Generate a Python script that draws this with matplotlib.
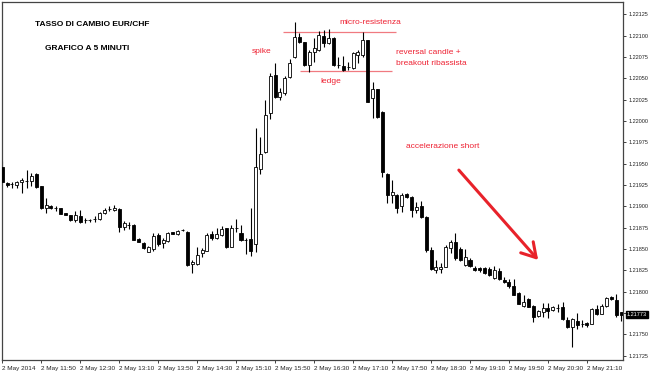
import matplotlib
matplotlib.use("Agg")
import matplotlib.pyplot as plt
import matplotlib.transforms as mtransforms
import numpy as np

# EUR/CHF 5 minute candles, 2 May 2014 from 11:10
opens = [1.21946, 1.21927, 1.21926, 1.21925, 1.21929, 1.21930, 1.21930, 1.21938, 1.21924, 1.21898,
         1.21900, 1.21898, 1.21898, 1.21892, 1.21890, 1.21884, 1.21889, 1.21884, 1.21884, 1.21885,
         1.21885, 1.21892, 1.21897, 1.21896, 1.21897, 1.21876, 1.21878, 1.21878, 1.21862, 1.21857,
         1.21847, 1.21850, 1.21867, 1.21857, 1.21860, 1.21870, 1.21868, 1.21872, 1.21870, 1.21833,
         1.21833, 1.21845, 1.21848, 1.21868, 1.21863, 1.21867, 1.21875, 1.21852, 1.21875, 1.21869,
         1.21861, 1.21862, 1.21856, 1.21944, 1.21964, 1.22009, 1.22054, 1.22028, 1.22033, 1.22052,
         1.22075, 1.22098, 1.22093, 1.22066, 1.22081, 1.22083, 1.22100, 1.22091, 1.22097, 1.22066,
         1.22064, 1.22063, 1.22062, 1.22077, 1.22077, 1.22095, 1.22027, 1.22037, 1.22011, 1.21938,
         1.21913, 1.21913, 1.21900, 1.21915, 1.21911, 1.21896, 1.21900, 1.21888, 1.21849, 1.21826,
         1.21827, 1.21829, 1.21851, 1.21858, 1.21850, 1.21831, 1.21837, 1.21828, 1.21828, 1.21828,
         1.21827, 1.21816, 1.21824, 1.21814, 1.21812, 1.21807, 1.21799, 1.21783, 1.21792, 1.21783,
         1.21772, 1.21776, 1.21781, 1.21779, 1.21781, 1.21782, 1.21767, 1.21759, 1.21766, 1.21762,
         1.21763, 1.21762, 1.21780, 1.21774, 1.21783, 1.21794, 1.21790, 1.21776]
highs = [1.21953, 1.21929, 1.21929, 1.21930, 1.21933, 1.21943, 1.21939, 1.21939, 1.21924, 1.21910,
         1.21902, 1.21900, 1.21898, 1.21892, 1.21890, 1.21895, 1.21896, 1.21886, 1.21885, 1.21889,
         1.21893, 1.21898, 1.21900, 1.21902, 1.21898, 1.21883, 1.21882, 1.21879, 1.21863, 1.21858,
         1.21854, 1.21869, 1.21869, 1.21863, 1.21870, 1.21870, 1.21872, 1.21874, 1.21871, 1.21837,
         1.21852, 1.21851, 1.21869, 1.21871, 1.21875, 1.21877, 1.21875, 1.21878, 1.21885, 1.21878,
         1.21863, 1.21898, 1.21992, 1.21981, 1.22025, 1.22056, 1.22068, 1.22039, 1.22053, 1.22073,
         1.22116, 1.22103, 1.22093, 1.22083, 1.22097, 1.22105, 1.22107, 1.22108, 1.22098, 1.22075,
         1.22076, 1.22069, 1.22081, 1.22083, 1.22104, 1.22095, 1.22046, 1.22037, 1.22012, 1.21939,
         1.21931, 1.21915, 1.21916, 1.21916, 1.21912, 1.21905, 1.21906, 1.21889, 1.21852, 1.21837,
         1.21834, 1.21855, 1.21861, 1.21869, 1.21852, 1.21850, 1.21840, 1.21830, 1.21829, 1.21829,
         1.21829, 1.21830, 1.21828, 1.21817, 1.21815, 1.21815, 1.21800, 1.21796, 1.21793, 1.21785,
         1.21779, 1.21787, 1.21787, 1.21783, 1.21786, 1.21788, 1.21771, 1.21769, 1.21775, 1.21767,
         1.21765, 1.21781, 1.21785, 1.21786, 1.21794, 1.21795, 1.21797, 1.21776]
lows = [1.21927, 1.21923, 1.21922, 1.21922, 1.21916, 1.21922, 1.21924, 1.21922, 1.21897, 1.21892,
        1.21897, 1.21895, 1.21891, 1.21890, 1.21883, 1.21882, 1.21881, 1.21881, 1.21882, 1.21882,
        1.21884, 1.21891, 1.21895, 1.21895, 1.21870, 1.21872, 1.21874, 1.21861, 1.21858, 1.21850,
        1.21847, 1.21848, 1.21854, 1.21851, 1.21858, 1.21868, 1.21867, 1.21871, 1.21830, 1.21822,
        1.21831, 1.21841, 1.21848, 1.21861, 1.21862, 1.21865, 1.21851, 1.21852, 1.21870, 1.21860,
        1.21844, 1.21842, 1.21847, 1.21938, 1.21963, 1.22002, 1.22027, 1.22025, 1.22030, 1.22050,
        1.22074, 1.22091, 1.22064, 1.22057, 1.22069, 1.22082, 1.22087, 1.22090, 1.22064, 1.22062,
        1.22059, 1.22060, 1.22061, 1.22068, 1.22075, 1.22022, 1.22004, 1.22004, 1.21934, 1.21904,
        1.21904, 1.21892, 1.21893, 1.21910, 1.21888, 1.21892, 1.21886, 1.21847, 1.21826, 1.21822,
        1.21822, 1.21829, 1.21845, 1.21837, 1.21836, 1.21830, 1.21829, 1.21824, 1.21823, 1.21821,
        1.21819, 1.21815, 1.21814, 1.21810, 1.21804, 1.21796, 1.21786, 1.21782, 1.21782, 1.21765,
        1.21771, 1.21771, 1.21769, 1.21778, 1.21776, 1.21767, 1.21758, 1.21735, 1.21756, 1.21759,
        1.21759, 1.21762, 1.21773, 1.21774, 1.21782, 1.21790, 1.21771, 1.21766]
closes = [1.21929, 1.21925, 1.21926, 1.21929, 1.21931, 1.21930, 1.21936, 1.21923, 1.21898, 1.21902,
          1.21898, 1.21898, 1.21891, 1.21890, 1.21884, 1.21890, 1.21882, 1.21884, 1.21884, 1.21885,
          1.21892, 1.21896, 1.21897, 1.21898, 1.21876, 1.21881, 1.21878, 1.21861, 1.21858, 1.21851,
          1.21852, 1.21865, 1.21856, 1.21861, 1.21869, 1.21868, 1.21871, 1.21872, 1.21831, 1.21835,
          1.21843, 1.21849, 1.21867, 1.21863, 1.21868, 1.21874, 1.21852, 1.21875, 1.21875, 1.21861,
          1.21861, 1.21848, 1.21946, 1.21961, 1.22007, 1.22053, 1.22028, 1.22034, 1.22050, 1.22068,
          1.22098, 1.22093, 1.22066, 1.22081, 1.22086, 1.22101, 1.22091, 1.22097, 1.22066, 1.22066,
          1.22060, 1.22063, 1.22080, 1.22081, 1.22095, 1.22022, 1.22037, 1.22005, 1.21940, 1.21913,
          1.21917, 1.21898, 1.21913, 1.21911, 1.21896, 1.21899, 1.21888, 1.21849, 1.21827, 1.21829,
          1.21829, 1.21852, 1.21858, 1.21840, 1.21837, 1.21841, 1.21830, 1.21826, 1.21826, 1.21822,
          1.21820, 1.21826, 1.21815, 1.21812, 1.21807, 1.21796, 1.21786, 1.21788, 1.21782, 1.21771,
          1.21778, 1.21781, 1.21778, 1.21782, 1.21781, 1.21768, 1.21759, 1.21768, 1.21761, 1.21762,
          1.21761, 1.21780, 1.21774, 1.21783, 1.21793, 1.21792, 1.21773, 1.21773]

time_labels = ["2 May 2014", "2 May 11:50", "2 May 12:30", "2 May 13:10", "2 May 13:50",
               "2 May 14:30", "2 May 15:10", "2 May 15:50", "2 May 16:30", "2 May 17:10",
               "2 May 17:50", "2 May 18:30", "2 May 19:10", "2 May 19:50", "2 May 20:30",
               "2 May 21:10"]
price_ticks = [1.21725, 1.21750, 1.21775, 1.21800, 1.21825, 1.21850, 1.21875, 1.21900,
               1.21925, 1.21950, 1.21975, 1.22000, 1.22025, 1.22050, 1.22075, 1.22100, 1.22125]

resistance = 1.22104      # micro-resistenza
resistance_bars = (57.6, 80.8)
ledge = 1.22059
ledge_bars = (61.1, 80.0)
last_price = 1.21773

red = "#ee2233"
pink = "#f07a80"
font = "Liberation Sans"

o = np.array(opens)
h = np.array(highs)
l = np.array(lows)
c = np.array(closes)
x = np.arange(len(o))

fig = plt.figure(figsize=(6.5, 3.71), dpi=100)
ax = fig.add_axes([2 / 650, 1 - 360 / 371, 621 / 650, 358 / 371])

ax.vlines(x, l, h, color="black", lw=0.8, zorder=2)
up = c >= o
body_low = np.minimum(o, c)
body_h = np.abs(c - o)
ax.bar(x[up], body_h[up], bottom=body_low[up], width=0.62, color="white",
       edgecolor="black", linewidth=0.6, zorder=3)
ax.bar(x[~up], body_h[~up], bottom=body_low[~up], width=0.62, color="black",
       edgecolor="black", linewidth=0.6, zorder=3)

ax.hlines(resistance, *resistance_bars, color=pink, lw=0.9, zorder=1)
ax.hlines(ledge, *ledge_bars, color=pink, lw=0.9, zorder=1)

ax.set_xlim(-0.05, 127.4)
ax.set_ylim(1.217201, 1.221393)

ax.yaxis.tick_right()
ax.set_yticks(price_ticks)
# the current price box covers the tick label at its level
ylabels = ["" if abs(p - last_price) < 0.0001 else f"{p:.5f}" for p in price_ticks]
ax.set_yticklabels(ylabels, fontsize=4.0, family=font)
ax.set_xticks(np.arange(len(time_labels)) * 8)
ax.set_xticklabels(time_labels, fontsize=4.6, family=font)
for lab in ax.get_xticklabels():
    lab.set_ha("left")
ax.tick_params(axis="both", direction="out", length=2.5, width=0.6, pad=1.5, colors="#222222")

for s in ax.spines.values():
    s.set_color("#444444")
    s.set_linewidth(0.9)

# last price marker
trans = mtransforms.blended_transform_factory(ax.transAxes, ax.transData)
ax.text(1.0065, last_price, f"{last_price:.5f}", transform=trans, fontsize=4.0, family=font,
        color="white", va="center", ha="left",
        bbox=dict(boxstyle="square,pad=0.15", fc="black", ec="black"))

# titles
ax.text(0.0531, 0.9358, "TASSO DI CAMBIO EUR/CHF", transform=ax.transAxes, fontsize=6,
        fontweight="bold", family=font, va="center", ha="left")
ax.text(0.0692, 0.8715, "GRAFICO A 5 MINUTI", transform=ax.transAxes, fontsize=6,
        fontweight="bold", family=font, va="center", ha="left")

# annotations
ax.text(0.5926, 0.9441, "micro-resistenza", transform=ax.transAxes, fontsize=6,
        color=red, family=font, va="center", ha="center")
ax.text(0.4187, 0.8631, "spike", transform=ax.transAxes, fontsize=6,
        color=red, family=font, va="center", ha="center")
ax.text(0.5298, 0.7793, "ledge", transform=ax.transAxes, fontsize=6,
        color=red, family=font, va="center", ha="center")
ax.text(0.6345, 0.8603, "reversal candle +", transform=ax.transAxes, fontsize=6,
        color=red, family=font, va="center", ha="left")
ax.text(0.6345, 0.8296, "breakout ribassista", transform=ax.transAxes, fontsize=6,
        color=red, family=font, va="center", ha="left")
ax.text(0.6506, 0.5950, "accelerazione short", transform=ax.transAxes, fontsize=6,
        color=red, family=font, va="center", ha="left")
ax.annotate("", xy=(0.8663, 0.2737), xytext=(0.7327, 0.5363),
            xycoords="axes fraction", textcoords="axes fraction",
            arrowprops=dict(arrowstyle="->,head_length=0.5,head_width=0.3",
                            color="#e8222a", lw=2.2, mutation_scale=20))

fig.savefig("out.png", dpi=100)
